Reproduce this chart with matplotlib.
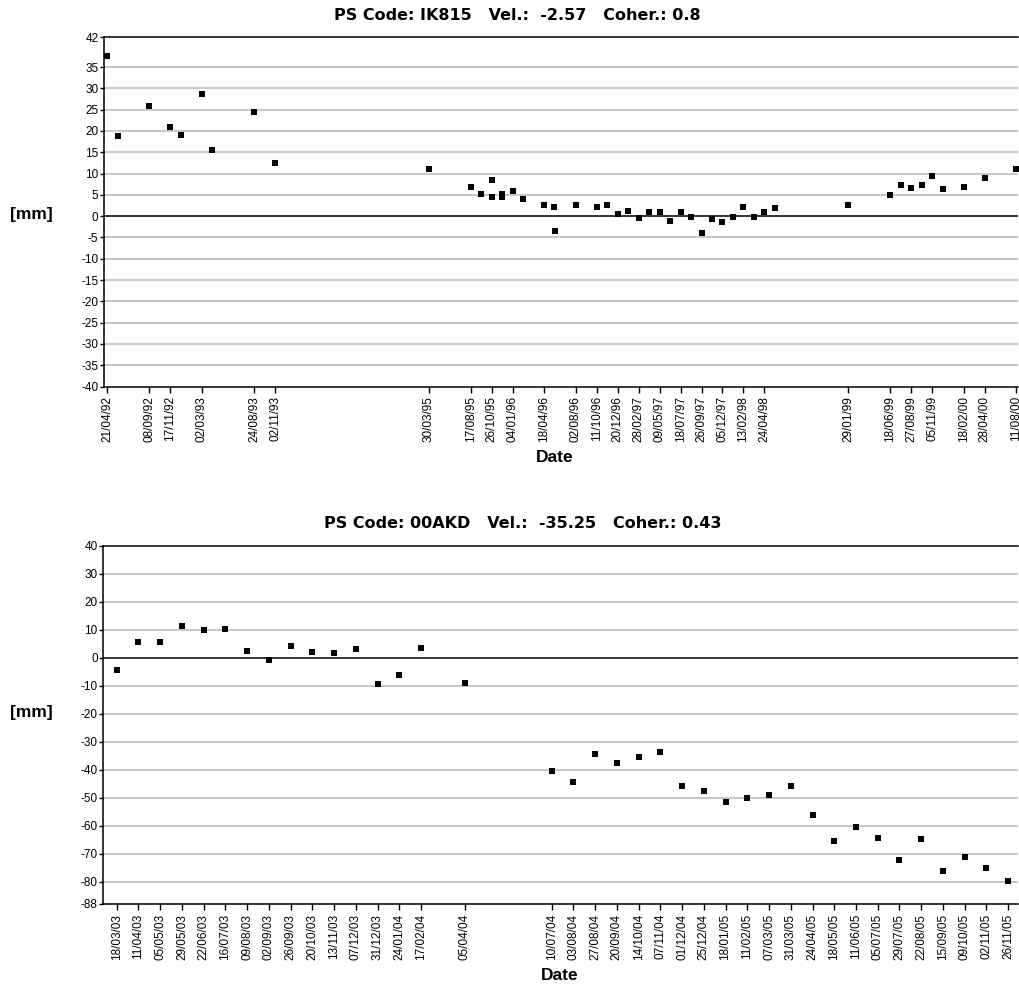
# PS displacement time series - two panels
import datetime
import matplotlib
matplotlib.use('Agg')
import matplotlib.pyplot as plt
import matplotlib.dates as mdates

plt.rcParams['font.family'] = ['Liberation Sans', 'DejaVu Sans']
plt.rcParams['axes.unicode_minus'] = False

# top panel data (IK815)
top_dates = ['21/04/92', '26/05/92', '08/09/92', '17/11/92', '22/12/92', '02/03/93',
             '06/04/93', '24/08/93', '02/11/93', '30/03/95', '17/08/95', '21/09/95',
             '26/10/95', '27/10/95', '30/11/95', '01/12/95', '04/01/96', '08/02/96',
             '18/04/96', '23/05/96', '24/05/96', '02/08/96', '11/10/96', '15/11/96',
             '20/12/96', '24/01/97', '28/02/97', '04/04/97', '09/05/97', '13/06/97',
             '18/07/97', '22/08/97', '26/09/97', '31/10/97', '05/12/97', '09/01/98',
             '13/02/98', '20/03/98', '24/04/98', '29/05/98', '29/01/99', '18/06/99',
             '23/07/99', '27/08/99', '01/10/99', '05/11/99', '10/12/99', '18/02/00',
             '28/04/00', '11/08/00']
top_values = [37.7, 18.8, 25.8, 21.0, 19.1, 28.7,
              15.6, 24.5, 12.4, 11.1, 6.9, 5.3,
              8.5, 4.6, 5.3, 4.4, 5.9, 4.0,
              2.7, 2.1, -3.4, 2.7, 2.1, 2.7,
              0.5, 1.2, -0.5, 0.9, 0.9, -1.1,
              0.9, -0.1, -4.0, -0.7, -1.4, -0.1,
              2.1, -0.1, 0.9, 1.8, 2.7, 5.0,
              7.3, 6.7, 7.3, 9.5, 6.3, 6.9,
              8.9, 11.0]
top_ticks = ['21/04/92', '08/09/92', '17/11/92', '02/03/93', '24/08/93', '02/11/93',
             '30/03/95', '17/08/95', '26/10/95', '04/01/96', '18/04/96', '02/08/96',
             '11/10/96', '20/12/96', '28/02/97', '09/05/97', '18/07/97', '26/09/97',
             '05/12/97', '13/02/98', '24/04/98', '29/01/99', '18/06/99', '27/08/99',
             '05/11/99', '18/02/00', '28/04/00', '11/08/00']
top_yticks = [-40, -35, -30, -25, -20, -15, -10, -5, 0, 5, 10, 15, 20, 25, 30, 35, 42]
top_title = 'PS Code: IK815   Vel.:  -2.57   Coher.: 0.8'

# bottom panel data (00AKD)
bot_dates = ['18/03/03', '11/04/03', '05/05/03', '29/05/03', '22/06/03', '16/07/03',
             '09/08/03', '02/09/03', '26/09/03', '20/10/03', '13/11/03', '07/12/03',
             '31/12/03', '24/01/04', '17/02/04', '05/04/04', '10/07/04', '03/08/04',
             '27/08/04', '20/09/04', '14/10/04', '07/11/04', '01/12/04', '25/12/04',
             '18/01/05', '11/02/05', '07/03/05', '31/03/05', '24/04/05', '18/05/05',
             '11/06/05', '05/07/05', '29/07/05', '22/08/05', '15/09/05', '09/10/05',
             '02/11/05', '26/11/05']
bot_values = [-4.3, 5.5, 5.5, 11.4, 9.9, 10.4,
              2.6, -0.8, 4.1, 2.1, 1.7, 3.1,
              -9.5, -6.2, 3.6, -9.1, -40.4, -44.3,
              -34.5, -37.5, -35.5, -33.5, -45.7, -47.7,
              -51.6, -50.2, -49.2, -45.7, -56.0, -65.3,
              -60.4, -64.4, -72.2, -64.9, -76.1, -71.2,
              -75.1, -79.6]
bot_ticks = bot_dates
bot_yticks = [-88, -80, -70, -60, -50, -40, -30, -20, -10, 0, 10, 20, 30, 40]
bot_title = 'PS Code: 00AKD   Vel.:  -35.25   Coher.: 0.43'


def todate(s):
    return datetime.datetime.strptime(s, '%d/%m/%y')


def draw_panel(ax, dates, values, ticks, yticks, pad_left, pad_right):
    d = [todate(s) for s in dates]
    ax.plot(d, values, 's', color='black', ms=4.3, mew=0)
    ax.set_ylim(yticks[0], yticks[-1])
    ax.set_yticks(yticks)
    tk = [todate(s) for s in ticks]
    ax.set_xticks(tk)
    ax.xaxis.set_major_formatter(mdates.DateFormatter('%d/%m/%y'))
    ax.set_xlim(tk[0] - datetime.timedelta(days=pad_left),
                tk[-1] + datetime.timedelta(days=pad_right))
    # grey grid + black zero line
    for y in yticks:
        if y not in (0, yticks[0], yticks[-1]):
            ax.axhline(y, color='#c8c8c8', lw=1.4, zorder=0)
    ax.axhline(0, color='black', lw=1.1, zorder=1)
    ax.spines['right'].set_visible(False)
    for s in ('left', 'top', 'bottom'):
        ax.spines[s].set_linewidth(1.1)
    ax.tick_params(axis='x', labelrotation=90, labelsize=8.5, length=4, width=1, pad=3)
    ax.tick_params(axis='y', labelsize=8.5, length=3, width=1, pad=1)


fig = plt.figure(figsize=(10.19, 9.91), dpi=100)
W, H = 1019.0, 991.0

ax1 = fig.add_axes([104 / W, 1 - 386.5 / H, 914 / W, 349.2 / H])
draw_panel(ax1, top_dates, top_values, top_ticks, top_yticks, 11, 6.7)

ax2 = fig.add_axes([103.3 / W, 1 - 904 / H, 914.7 / W, 358 / H])
draw_panel(ax2, bot_dates, bot_values, bot_ticks, bot_yticks, 14.8, 10.8)

# titles and axis labels
fig.text(517 / W, 1 - 15 / H, top_title, ha='center', va='center',
         fontsize=11.5, fontweight='bold', family='DejaVu Sans')
fig.text(523 / W, 1 - 523 / H, bot_title, ha='center', va='center',
         fontsize=11.5, fontweight='bold', family='DejaVu Sans')
fig.text(31 / W, 1 - 214 / H, '[mm]', ha='center', va='center',
         fontsize=12.5, fontweight='bold')
fig.text(31 / W, 1 - 712 / H, '[mm]', ha='center', va='center',
         fontsize=12.5, fontweight='bold')
fig.text(555 / W, 1 - 457 / H, 'Date', ha='center', va='center',
         fontsize=12.5, fontweight='bold')
fig.text(560 / W, 1 - 976 / H, 'Date', ha='center', va='center',
         fontsize=12.5, fontweight='bold')

fig.savefig('out.png', dpi=100, facecolor='white')
